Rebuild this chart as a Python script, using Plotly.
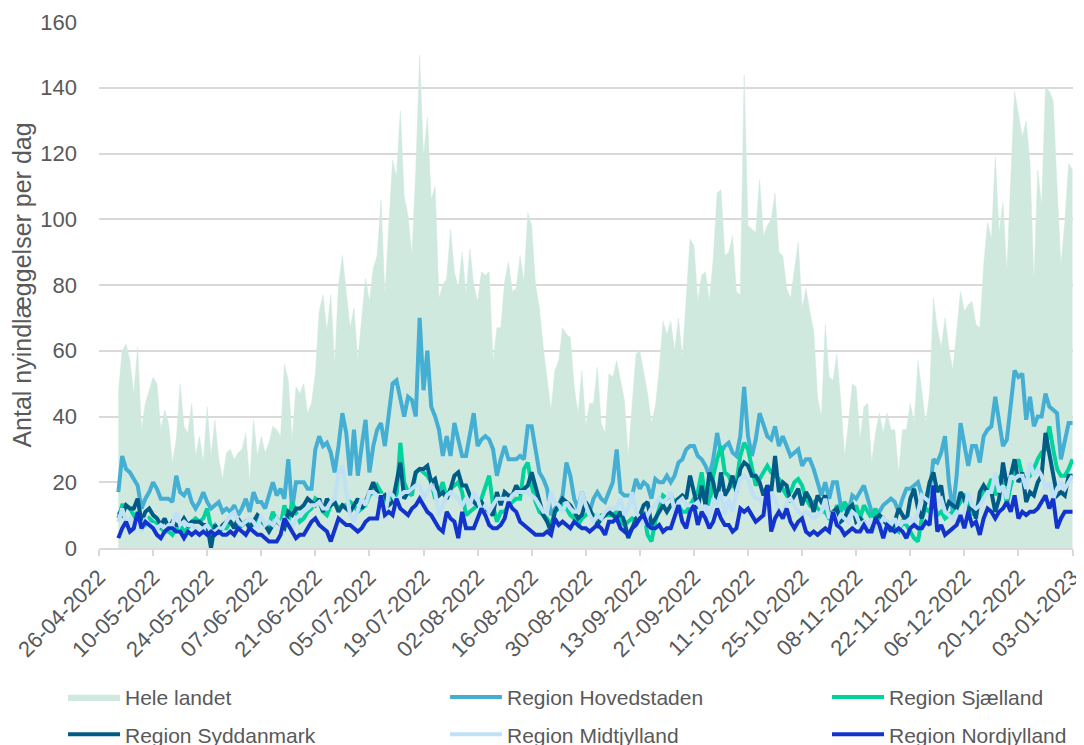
import pandas as pd
import plotly.graph_objects as go

dates = pd.date_range("2022-05-01", "2023-01-03", freq="D")

hele_landet = [
    47, 60, 62, 57, 47, 61, 36, 44, 48, 52, 50, 36, 42, 38, 26, 33, 50, 37, 35, 44, 28, 34, 26, 43, 28, 39, 27, 21,
    29, 30, 27, 29, 30, 35, 20, 39, 28, 34, 29, 32, 37, 36, 34, 56, 51, 33, 49, 47, 50, 41, 44, 53, 72, 77, 66, 77, 56,
    80, 89, 77, 67, 73, 57, 70, 82, 75, 85, 89, 106, 77, 96, 118, 113, 133, 107, 101, 89, 115, 150, 119, 131, 106, 110, 76, 80, 82, 97, 84, 79, 90,
    77, 91, 80, 75, 84, 83, 84, 57, 67, 67, 81, 87, 78, 79, 89, 81, 102, 98, 80, 73, 61, 51, 42, 54, 57, 67, 65, 64, 49, 41, 54,
    37, 44, 44, 55, 38, 35, 53, 52, 57, 51, 45, 28, 43, 59, 60, 54, 47, 38, 43, 54, 69, 65, 69, 60, 70, 58, 76, 94, 92,
    75, 83, 84, 75, 88, 108, 109, 89, 90, 95, 78, 77, 144, 98, 97, 96, 112, 95, 98, 100, 108, 90, 89, 79, 76, 85, 93, 73, 79, 72, 66, 46, 40,
    68, 52, 51, 59, 45, 28, 38, 50, 49, 33, 43, 44, 26, 35, 41, 35, 41, 36, 36, 23, 36, 36, 44, 38, 57, 48, 38, 47, 76, 67, 61,
    70, 61, 54, 65, 78, 72, 74, 75, 68, 67, 86, 99, 94, 119, 96, 105, 84, 112, 139, 132, 125, 130, 117, 81, 115, 104, 140, 139, 136, 110, 86, 99, 117, 115,
]

hovedstaden = [
    17, 28, 24, 23, 21, 19, 12, 15, 17, 20, 18, 15, 15, 15, 14, 22, 17, 16, 18, 14, 12, 14, 17, 14, 12, 13, 14, 11,
    12, 11, 13, 10, 12, 15, 11, 17, 14, 14, 12, 16, 20, 16, 18, 15, 27, 12, 20, 20, 20, 18, 18, 30, 34, 31, 32, 29, 23,
    31, 41, 35, 22, 36, 22, 31, 39, 23, 31, 36, 38, 31, 40, 50, 51, 46, 40, 46, 45, 40, 70, 48, 60, 43, 40, 36, 28, 34, 28, 38, 33, 28,
    28, 35, 41, 31, 33, 34, 33, 30, 22, 27, 31, 27, 27, 27, 28, 27, 37, 37, 30, 23, 21, 18, 10, 12, 13, 16, 26, 22, 15, 12, 17,
    13, 11, 15, 17, 15, 14, 17, 20, 30, 17, 16, 16, 16, 21, 18, 20, 19, 15, 21, 20, 20, 22, 20, 22, 26, 27, 30, 31, 31,
    28, 27, 25, 22, 27, 35, 29, 31, 32, 29, 28, 34, 49, 34, 28, 33, 41, 37, 34, 33, 37, 31, 34, 31, 28, 29, 30, 25, 27, 27, 24, 20, 16,
    20, 15, 20, 20, 13, 12, 11, 16, 15, 17, 19, 15, 11, 10, 11, 13, 14, 15, 14, 11, 15, 18, 18, 19, 20, 16, 14, 17, 27, 26, 29,
    34, 20, 11, 22, 38, 32, 25, 31, 31, 26, 34, 36, 37, 46, 38, 31, 33, 44, 54, 52, 53, 39, 46, 37, 40, 40, 47, 43, 42, 41, 27, 33, 38, 38,
]

sjaelland = [
    9, 13, 13, 12, 10, 8, 6, 7, 9, 8, 7, 6, 5, 5, 4, 6, 7, 5, 6, 8, 9, 8, 9, 12, 6, 7, 5, 6,
    6, 8, 7, 6, 7, 8, 7, 7, 9, 8, 7, 7, 11, 8, 7, 13, 8, 14, 11, 8, 9, 11, 12, 15, 14, 11, 10, 13, 14,
    12, 13, 13, 14, 13, 11, 12, 13, 16, 17, 19, 17, 14, 15, 16, 15, 32, 20, 17, 16, 23, 24, 23, 22, 20, 15, 17, 20, 15, 18, 19, 20, 17,
    10, 11, 12, 13, 15, 19, 22, 13, 8, 11, 11, 13, 14, 15, 15, 24, 26, 19, 14, 11, 10, 9, 7, 11, 12, 13, 12, 10, 9, 7, 9,
    10, 11, 10, 9, 10, 10, 10, 10, 11, 8, 7, 8, 9, 8, 10, 11, 4, 2, 8, 12, 16, 15, 16, 14, 13, 11, 11, 13, 15,
    17, 23, 15, 13, 22, 27, 31, 23, 22, 19, 20, 28, 32, 30, 24, 19, 21, 23, 25, 23, 22, 21, 18, 16, 17, 20, 21, 19, 15, 13, 14, 12, 11,
    11, 9, 9, 13, 11, 14, 12, 10, 13, 9, 13, 11, 9, 12, 8, 8, 8, 7, 6, 5, 8, 7, 5, 3, 2, 9, 12, 11, 14, 10, 11,
    9, 10, 11, 12, 14, 16, 15, 10, 12, 14, 17, 18, 21, 16, 21, 23, 13, 19, 23, 27, 22, 21, 22, 24, 27, 29, 30, 37, 30, 24, 22, 22, 24, 27,
]

syddanmark = [
    11, 10, 13, 12, 12, 15, 8, 11, 12, 10, 9, 7, 9, 6, 8, 7, 7, 9, 7, 8, 8, 8, 7, 7, 0, 7, 5, 7,
    8, 8, 6, 9, 7, 8, 6, 8, 10, 9, 7, 5, 7, 9, 7, 6, 11, 10, 12, 12, 13, 15, 14, 13, 15, 11, 15, 13, 14,
    11, 13, 12, 11, 13, 15, 12, 14, 17, 20, 17, 15, 16, 13, 14, 20, 26, 15, 17, 18, 23, 24, 24, 25, 20, 21, 16, 17, 15, 18, 22, 23, 19,
    19, 16, 14, 13, 14, 12, 11, 10, 17, 13, 17, 16, 16, 19, 17, 18, 19, 23, 19, 15, 10, 8, 5, 11, 13, 15, 14, 13, 11, 9, 10,
    14, 12, 9, 7, 9, 10, 11, 10, 9, 11, 8, 3, 6, 9, 10, 13, 14, 7, 9, 11, 13, 11, 13, 14, 15, 16, 15, 22, 17,
    12, 19, 13, 23, 20, 14, 23, 16, 18, 22, 17, 24, 26, 25, 22, 22, 20, 16, 19, 17, 28, 17, 20, 19, 14, 16, 18, 13, 17, 15, 11, 16, 14,
    16, 10, 11, 12, 8, 9, 12, 13, 8, 9, 8, 5, 8, 9, 10, 9, 7, 5, 8, 12, 10, 8, 15, 18, 12, 9, 14, 20, 23, 17, 19,
    11, 14, 13, 12, 17, 15, 11, 13, 9, 17, 19, 17, 17, 11, 15, 26, 19, 22, 27, 20, 23, 14, 17, 16, 20, 22, 35, 29, 22, 16, 17, 16, 22, 22,
]

midtjylland = [
    8, 12, 8, 9, 6, 8, 5, 9, 7, 7, 6, 7, 6, 7, 7, 11, 7, 8, 7, 7, 6, 5, 6, 7, 5, 5, 6, 6,
    8, 10, 11, 8, 7, 8, 9, 8, 6, 10, 7, 8, 7, 9, 7, 9, 8, 6, 9, 10, 11, 12, 13, 13, 14, 12, 12, 14, 15,
    23, 25, 17, 10, 8, 12, 15, 13, 17, 17, 16, 16, 9, 17, 16, 14, 16, 17, 17, 18, 19, 19, 15, 17, 19, 17, 10, 13, 16, 17, 16, 15, 13,
    15, 13, 17, 15, 11, 13, 11, 13, 15, 15, 15, 14, 16, 17, 17, 17, 17, 16, 15, 13, 11, 11, 17, 14, 13, 11, 14, 12, 11, 11, 17,
    13, 10, 8, 10, 9, 11, 12, 12, 12, 15, 10, 12, 17, 11, 9, 7, 10, 12, 13, 15, 14, 15, 17, 11, 14, 15, 13, 13, 13,
    14, 11, 13, 9, 15, 13, 17, 10, 15, 11, 17, 21, 22, 21, 17, 15, 15, 13, 12, 17, 15, 11, 10, 14, 15, 13, 11, 10, 11, 10, 9, 10, 11,
    15, 9, 11, 8, 10, 9, 8, 11, 10, 7, 8, 6, 9, 6, 7, 9, 8, 7, 9, 6, 8, 8, 9, 7, 11, 16, 15, 14, 13, 14, 15,
    11, 10, 9, 11, 10, 11, 17, 13, 12, 13, 15, 17, 17, 23, 17, 19, 15, 22, 21, 22, 22, 18, 26, 22, 24, 22, 18, 20, 15, 18, 20, 18, 20, 22,
]

nordjylland = [
    3, 6, 8, 5, 6, 11, 6, 8, 7, 6, 4, 3, 5, 6, 6, 5, 5, 3, 5, 4, 5, 4, 5, 4, 5, 4, 5, 4,
    4, 5, 4, 6, 5, 4, 6, 5, 4, 4, 3, 2, 2, 2, 4, 9, 7, 5, 3, 4, 4, 6, 8, 9, 7, 6, 5, 2, 6,
    9, 8, 7, 7, 6, 5, 6, 8, 9, 9, 9, 16, 10, 11, 10, 15, 12, 11, 10, 12, 13, 15, 13, 11, 10, 8, 6, 5, 11, 9, 8, 3, 11,
    6, 6, 6, 9, 12, 10, 7, 6, 6, 7, 9, 14, 12, 11, 8, 7, 6, 5, 4, 4, 4, 5, 4, 9, 7, 8, 7, 6, 8, 7, 6,
    6, 5, 6, 7, 6, 4, 8, 8, 9, 6, 5, 4, 6, 7, 9, 10, 7, 6, 6, 7, 5, 6, 6, 10, 13, 8, 6, 11, 13,
    7, 11, 9, 6, 8, 12, 9, 7, 7, 5, 6, 12, 11, 12, 10, 8, 9, 10, 19, 5, 9, 11, 9, 12, 8, 6, 8, 9, 5, 4, 5, 4, 5,
    6, 5, 11, 7, 6, 4, 5, 6, 5, 5, 7, 5, 5, 9, 7, 3, 7, 6, 5, 6, 5, 3, 6, 7, 6, 6, 8, 7, 19, 5, 7,
    4, 5, 6, 7, 10, 6, 11, 7, 8, 4, 9, 12, 11, 9, 11, 12, 14, 11, 16, 9, 11, 10, 11, 11, 12, 14, 16, 12, 15, 6, 9, 11, 11, 11,
]

series_names = ["Hele landet", "Region Hovedstaden", "Region Sjælland",
                "Region Syddanmark", "Region Midtjylland", "Region Nordjylland"]
y_title = "Antal nyindlæggelser per dag"

FONT = "Liberation Sans, Arial, sans-serif"
GREY = "#595959"

fig = go.Figure()

fig.add_trace(go.Scatter(
    x=dates, y=hele_landet, name=series_names[0], mode="lines",
    line=dict(color="#cfe9df", width=0.5), fill="tozeroy", fillcolor="#cfe9df",
    legend="legend", legendgroup="a",
))

line_specs = [
    (hovedstaden, series_names[1], "#44aed3", "legend2", "b"),
    (sjaelland, series_names[2], "#00d39c", "legend3", "c"),
    (syddanmark, series_names[3], "#005b86", "legend", "d"),
    (midtjylland, series_names[4], "#bfe0f5", "legend2", "e"),
    (nordjylland, series_names[5], "#1234cc", "legend3", "f"),
]
for vals, name, col, leg, grp in line_specs:
    fig.add_trace(go.Scatter(
        x=dates, y=vals, name=name, mode="lines",
        line=dict(color=col, width=4), legend=leg, legendgroup=grp,
    ))

# plot width here is 974 px (l=91, r=19)
PW = 974.0
def px_to_paper(px):
    return (px - 99) / PW

leg_common = dict(
    orientation="v", yanchor="top", xanchor="left", y=-0.245,
    font=dict(family=FONT, size=21, color=GREY), itemwidth=52,
    tracegroupgap=7, bgcolor="rgba(0,0,0,0)", itemclick=False,
)

fig.update_layout(
    width=1084, height=745,
    margin=dict(l=91, r=19, t=14, b=205, autoexpand=False),
    paper_bgcolor="white", plot_bgcolor="white",
    font=dict(family=FONT, color=GREY),
    showlegend=True,
    legend=dict(x=px_to_paper(63), **leg_common),
    legend2=dict(x=px_to_paper(445), **leg_common),
    legend3=dict(x=px_to_paper(827), **leg_common),
    xaxis=dict(
        type="date", range=["2022-04-26", "2023-01-03 03:00"], automargin=False,
        tick0="2022-04-26", dtick=14 * 86400000, tickformat="%d-%m-%Y",
        tickangle=-45, tickfont=dict(family=FONT, size=22, color=GREY),
        ticklabeloverflow="allow",
        showgrid=False, showline=True, linecolor="#d9d9d9", linewidth=1.5,
        ticks="outside", ticklen=6, tickcolor="#d9d9d9", tickwidth=1.5,
        zeroline=False,
    ),
    yaxis=dict(
        range=[0, 160], dtick=20, tick0=0, automargin=False,
        tickfont=dict(family=FONT, size=22, color=GREY),
        showgrid=True, gridcolor="#d9d9d9", gridwidth=1.5,
        zeroline=False, showline=False, ticks="", ticklabelstandoff=21,
        title=dict(text=y_title, font=dict(family=FONT, size=25, color=GREY), standoff=4),
    ),
)

fig.write_html("out.html")
